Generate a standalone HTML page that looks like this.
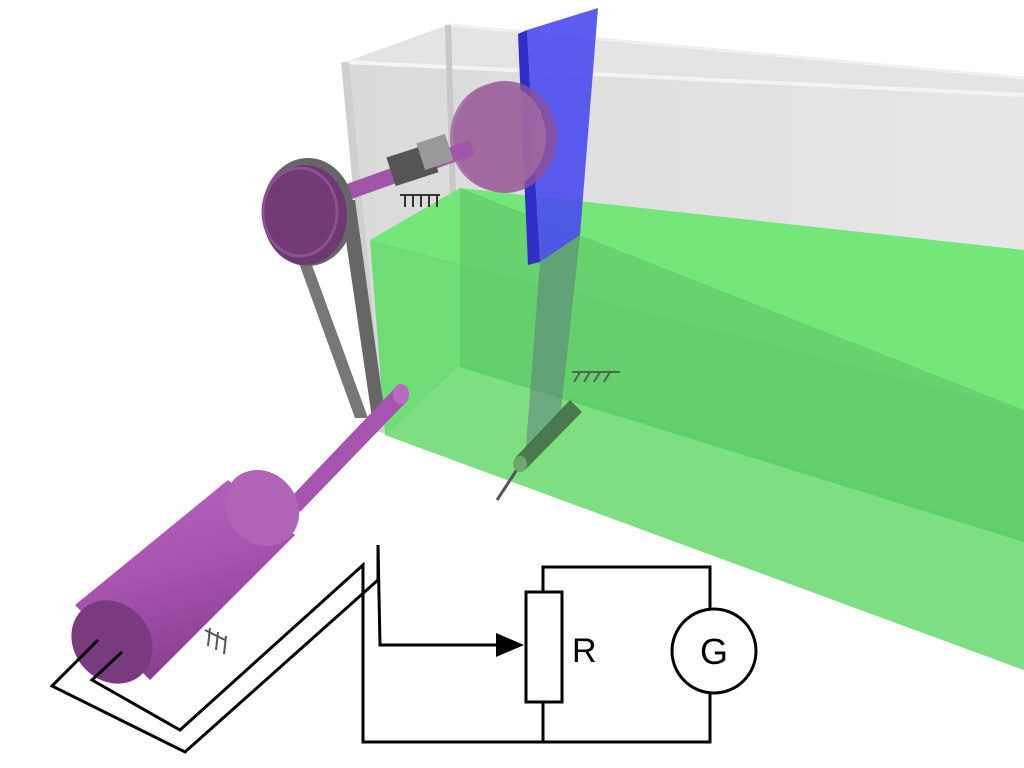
<!DOCTYPE html>
<html><head><meta charset="utf-8"><style>
html,body{margin:0;padding:0;background:#fff;width:1024px;height:768px;overflow:hidden}
svg{display:block}
</style></head><body>
<svg width="1024" height="768" viewBox="0 0 1024 768" xmlns="http://www.w3.org/2000/svg">
<defs>
<linearGradient id="gface" x1="0" y1="0" x2="1" y2="0"><stop offset="0" stop-color="#d8d8d8"/><stop offset="1" stop-color="#e6e6e6"/></linearGradient>
<linearGradient id="cyl" x1="0" y1="0" x2="0.3" y2="1"><stop offset="0" stop-color="#b565bd"/><stop offset="0.5" stop-color="#a855b0"/><stop offset="1" stop-color="#8a3f92"/></linearGradient>
</defs>
<g>
<polygon points="345,62 448,25 1024,78 1024,95" fill="#e4e4e4"/>
<polygon points="345,62 1024,95 1024,670 380,432" fill="url(#gface)" opacity="0.95"/>
<line x1="345" y1="62" x2="1024" y2="95" stroke="#f4f4f4" stroke-width="4"/>
<line x1="448" y1="25" x2="1024" y2="78" stroke="#f0f0f0" stroke-width="3"/>
<line x1="448" y1="25" x2="458" y2="365" stroke="#c8c8c8" stroke-width="6"/>
<line x1="345" y1="62" x2="380" y2="432" stroke="#cfcfcf" stroke-width="8"/>
</g>
<g>
<polygon points="370,240 460,188 1024,250 1024,410" fill="#74e67a"/>
<polygon points="370,240 1024,410 1024,670 385,435" fill="#6fdc76"/>
<polygon points="385,435 460,365 1024,540 1024,670" fill="#7ddf82"/>
<polygon points="460,188 460,365 1024,540 1024,410" fill="#62c96a" opacity="0.7"/>
<line x1="460" y1="365" x2="1024" y2="540" stroke="#5fd066" stroke-width="4"/>
</g>
<g>
<polygon points="540,262 580,235 560,420 525,460" fill="#5a6a80" opacity="0.45"/>
<polygon points="527,30 598,8 580,235 540,262" fill="#4a4af0" opacity="0.9"/>
<polygon points="527,30 540,262 528,265 518,34" fill="#3030c8"/>
</g>
<g>
<line x1="520" y1="465" x2="497" y2="500" stroke="#555" stroke-width="3"/>
<polygon points="515,458 570,400 582,412 525,470" fill="#4a7a4c"/>
<ellipse cx="520" cy="464" rx="7" ry="8" fill="#6aa86c"/>
<path d="M572,372 L620,372 M580,372 l-6,10 M590,372 l-6,10 M600,372 l-6,10 M610,372 l-6,10" stroke="#4a6a4c" stroke-width="2" fill="none"/>
</g>
<g>
<ellipse cx="505" cy="137" rx="52" ry="56" fill="#8f4f97" opacity="0.8"/>
<ellipse cx="498" cy="137" rx="48" ry="54" fill="#a06aa0" opacity="0.85"/>
<polygon points="330,190 470,140 474,155 335,205" fill="#a055a8"/>
<rect x="390" y="150" width="45" height="30" fill="#555" transform="rotate(-18 412 165)"/>
<rect x="420" y="138" width="30" height="28" fill="#999" transform="rotate(-18 435 152)"/>
<path d="M400,195 L440,195 M405,195 l0,12 M413,195 l0,12 M421,195 l0,12 M429,195 l0,12 M437,195 l0,12" stroke="#333" stroke-width="2" fill="none"/>
</g>
<g>
<polygon points="278,205 290,205 368,418 355,418" fill="#777"/>
<polygon points="340,200 355,200 385,415 372,418" fill="#666"/>
<ellipse cx="308" cy="212" rx="46" ry="54" fill="#666"/>
</g>
<ellipse cx="305" cy="215" rx="42" ry="50" fill="#6e3870"/>
<ellipse cx="300" cy="212" rx="37" ry="44" fill="#733b75" stroke="#8e4f92" stroke-width="3"/>
<g>
<polygon points="290,498 395,388 408,400 300,512" fill="#a555ad"/>
<ellipse cx="401" cy="394" rx="8" ry="10" fill="#b86bbe"/>
<polygon points="75,605 228,480 295,535 150,680" fill="url(#cyl)"/>
<ellipse cx="262" cy="508" rx="35" ry="40" fill="#b064b8" transform="rotate(-40 262 508)"/>
<ellipse cx="112" cy="642" rx="38" ry="44" fill="#7a3a80" transform="rotate(-40 112 642)"/>
<path d="M205,630 L225,640 M210,628 l-2,18 M218,632 l-2,18 M226,636 l-2,18" stroke="#555" stroke-width="2" fill="none"/>
</g>
<g fill="none" stroke="#000" stroke-width="3">
<polyline points="98,640 52,686 185,752 378,580 378,545"/>
<polyline points="122,652 92,680 180,730 363,565 363,742 710,742 710,692"/>
<polyline points="378,545 380,645 500,645"/>
<polyline points="543,592 543,567 710,567 710,610"/>
<line x1="543" y1="702" x2="543" y2="742"/>
</g>
<polygon points="496,633 524,645 496,657" fill="#000"/>
<rect x="526" y="592" width="36" height="110" fill="#fff" stroke="#000" stroke-width="3"/>
<text x="572" y="662" font-family="Liberation Sans, sans-serif" font-size="34" fill="#000">R</text>
<circle cx="714" cy="651" r="42" fill="#fff" stroke="#000" stroke-width="3"/>
<text x="714" y="664" text-anchor="middle" font-family="Liberation Sans, sans-serif" font-size="36" fill="#000">G</text>
</svg>
</body></html>
